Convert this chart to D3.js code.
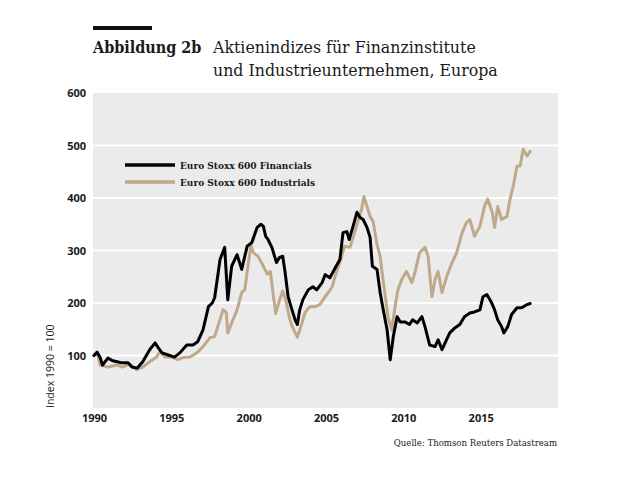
<!DOCTYPE html>
<html>
<head>
<meta charset="utf-8">
<script src="https://cdn.jsdelivr.net/npm/d3@7"></script>
<style>
  html, body { margin: 0; padding: 0; background: #fff; }
  svg { display: block; }
</style>
</head>
<body>
<svg id="chart" width="620" height="483"></svg>
<script>
// ---- data ----
const titleBold = "Abbildung 2b";
const titleLines = ["Aktienindizes für Finanzinstitute", "und Industrieunternehmen, Europa"];
const seriesNames = ["Euro Stoxx 600 Financials", "Euro Stoxx 600 Industrials"];
const yTicks = [100, 200, 300, 400, 500, 600];
const xTicks = [1990, 1995, 2000, 2005, 2010, 2015];
const yAxisLabel = "Index 1990 = 100";
const sourceText = "Quelle: Thomson Reuters Datastream";

// [year, index]
const financials = [
  [1990.0,100],[1990.2,106],[1990.4,96],[1990.55,82],[1990.9,95],[1991.2,90],[1991.5,88],[1991.8,86],
  [1992.2,86],[1992.45,78],[1992.8,76],[1993.15,88],[1993.6,111],[1993.95,124],[1994.15,115],[1994.4,105],
  [1994.8,101],[1995.2,97],[1995.55,105],[1996.0,120],[1996.4,120],[1996.7,126],[1997.05,149],[1997.4,193],
  [1997.65,200],[1997.8,210],[1998.15,283],[1998.45,306],[1998.65,206],[1998.9,270],[1999.25,292],[1999.55,264],
  [1999.9,308],[2000.2,315],[2000.55,344],[2000.8,350],[2000.95,346],[2001.1,327],[2001.25,321],[2001.5,306],
  [2001.8,277],[2002.0,287],[2002.2,289],[2002.35,260],[2002.55,212],[2002.8,187],[2003.0,168],[2003.15,159],
  [2003.3,187],[2003.5,206],[2003.85,225],[2004.15,231],[2004.4,225],[2004.75,239],[2004.95,254],[2005.25,248],
  [2005.6,267],[2005.9,283],[2006.1,334],[2006.35,336],[2006.5,321],[2006.75,346],[2007.0,373],[2007.2,363],
  [2007.4,359],[2007.65,344],[2007.85,325],[2008.0,270],[2008.3,264],[2008.5,220],[2008.7,187],[2008.95,149],
  [2009.15,92],[2009.35,136],[2009.6,174],[2009.8,164],[2010.1,164],[2010.4,159],[2010.6,168],[2010.9,162],
  [2011.2,174],[2011.4,155],[2011.7,120],[2012.05,117],[2012.25,130],[2012.5,111],[2012.7,124],[2013.0,143],
  [2013.35,153],[2013.65,159],[2013.95,174],[2014.3,181],[2014.6,183],[2014.95,187],[2015.15,212],[2015.4,216],
  [2015.7,201],[2015.9,187],[2016.1,168],[2016.35,155],[2016.5,143],[2016.75,155],[2017.0,178],[2017.35,191],
  [2017.65,191],[2018.0,197],[2018.2,199]
];
const industrials = [
  [1990.0,100],[1990.2,107],[1990.4,82],[1990.9,78],[1991.5,82],[1991.85,78],[1992.3,84],[1992.75,73],
  [1993.15,78],[1993.6,88],[1994.05,97],[1994.25,107],[1994.6,97],[1995.05,97],[1995.4,92],[1995.75,96],
  [1996.2,97],[1996.65,105],[1997.05,117],[1997.5,134],[1997.8,136],[1998.0,155],[1998.35,187],[1998.55,182],
  [1998.65,143],[1998.9,162],[1999.25,187],[1999.55,220],[1999.75,225],[1999.95,270],[2000.15,310],[2000.3,296],
  [2000.6,289],[2000.9,273],[2001.2,255],[2001.4,260],[2001.55,225],[2001.75,180],[2002.0,206],[2002.2,223],
  [2002.4,205],[2002.65,170],[2002.85,153],[2003.15,135],[2003.45,162],[2003.65,182],[2003.95,193],[2004.3,193],
  [2004.6,197],[2004.95,212],[2005.15,220],[2005.4,231],[2005.6,252],[2005.9,279],[2006.2,308],[2006.55,306],
  [2006.85,334],[2007.05,354],[2007.3,378],[2007.45,403],[2007.65,384],[2007.85,365],[2008.05,355],[2008.3,311],
  [2008.5,289],[2008.6,264],[2008.8,220],[2009.0,174],[2009.25,149],[2009.45,190],[2009.65,225],[2009.9,245],
  [2010.2,260],[2010.55,239],[2010.75,258],[2011.05,296],[2011.4,306],[2011.6,289],[2011.85,212],[2012.05,245],
  [2012.25,260],[2012.5,220],[2012.8,250],[2013.15,277],[2013.45,296],[2013.8,334],[2014.1,354],[2014.3,359],
  [2014.6,327],[2014.95,346],[2015.25,384],[2015.45,398],[2015.75,373],[2015.9,344],[2016.1,384],[2016.35,359],
  [2016.7,365],[2016.9,398],[2017.1,422],[2017.35,461],[2017.55,461],[2017.75,493],[2018.0,480],[2018.2,489]
];
const seriesData = [financials, industrials];
const seriesColors = ["#000000", "#bfa98a"];

// ---- layout ----
const svg = d3.select("#chart");
const plot = { left: 93, right: 558, top: 93, bottom: 408 };

const x = d3.scaleLinear().domain([1990, 2020]).range([plot.left + 1, plot.right]);
const y = d3.scaleLinear().domain([0, 600]).range([plot.bottom, plot.top]);

const serif = "'DejaVu Serif', 'Liberation Serif', serif";
const serifC = "'DejaVu Serif Condensed', 'DejaVu Serif', serif";
const sans = "'Open Sans', 'Noto Sans', sans-serif";

// title bar
svg.append("rect").attr("x", 93).attr("y", 26).attr("width", 59).attr("height", 4).attr("fill", "#111");

svg.append("text").attr("x", 93).attr("y", 53)
  .attr("font-family", serifC).attr("font-weight", "bold").attr("font-size", 16)
  .attr("fill", "#1a1a1a").text(titleBold);
titleLines.forEach((t, i) => {
  svg.append("text").attr("x", 213).attr("y", 53 + i * 23)
    .attr("font-family", serif).attr("font-size", 15.8).attr("fill", "#1a1a1a").text(t);
});

// plot background
svg.append("rect").attr("x", plot.left).attr("y", plot.top)
  .attr("width", plot.right - plot.left).attr("height", plot.bottom - plot.top)
  .attr("fill", "#ebebeb");

// gridlines
svg.append("g").selectAll("line").data(yTicks.filter(d => d < 600)).join("line")
  .attr("x1", plot.left).attr("x2", plot.right)
  .attr("y1", d => y(d)).attr("y2", d => y(d))
  .attr("stroke", "#ffffff").attr("stroke-width", 2);

// y axis
const yAxis = d3.axisLeft(y).tickValues(yTicks).tickSize(0).tickPadding(0);
const gy = svg.append("g").attr("transform", `translate(86,0)`).call(yAxis);
gy.select(".domain").remove();
gy.selectAll("text").attr("font-family", sans).attr("font-weight", 700).attr("font-size", 11).attr("fill", "#1a1a1a");

// x axis
const xAxis = d3.axisBottom(x).tickValues(xTicks).tickFormat(d3.format("d")).tickSize(0).tickPadding(0);
const gx = svg.append("g").attr("transform", `translate(0,414)`).call(xAxis);
gx.select(".domain").remove();
gx.selectAll("text").attr("font-family", sans).attr("font-weight", 700).attr("font-size", 11).attr("fill", "#1a1a1a");

// y-axis label
svg.append("text").attr("transform", `translate(54,${plot.bottom}) rotate(-90)`)
  .attr("font-family", sans).attr("font-size", 10.5).attr("fill", "#1a1a1a")
  .attr("text-anchor", "start").text(yAxisLabel);

// lines
const line = d3.line().x(d => x(d[0])).y(d => y(d[1])).curve(d3.curveLinear);
svg.append("g").selectAll("path").data([1, 0]).join("path")
  .attr("d", i => line(seriesData[i]))
  .attr("fill", "none").attr("stroke", i => seriesColors[i])
  .attr("stroke-width", 3).attr("stroke-linejoin", "round").attr("stroke-linecap", "round");

// legend
seriesNames.forEach((name, i) => {
  const ly = 165 + i * 17;
  svg.append("line").attr("x1", 125).attr("x2", 175).attr("y1", ly).attr("y2", ly)
    .attr("stroke", seriesColors[i]).attr("stroke-width", 3.5);
  svg.append("text").attr("x", 180).attr("y", ly + 3.5)
    .attr("font-family", serifC).attr("font-weight", "bold").attr("font-size", 10).attr("fill", "#1a1a1a")
    .text(name);
});

// source
svg.append("text").attr("x", 557).attr("y", 446).attr("text-anchor", "end")
  .attr("font-family", serifC).attr("font-size", 9.5).attr("fill", "#1a1a1a").text(sourceText);
</script>
</body>
</html>
